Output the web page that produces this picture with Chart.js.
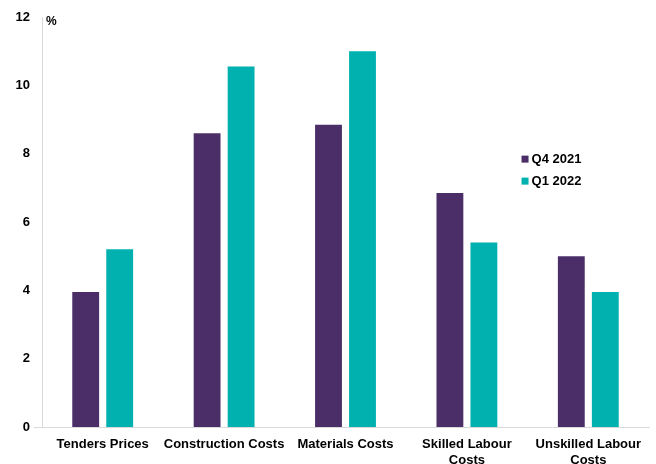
<!DOCTYPE html>
<html>
<head>
<meta charset="utf-8">
<script src="https://cdn.jsdelivr.net/npm/chart.js@4/dist/chart.umd.min.js"></script>
<style>
html,body{margin:0;padding:0;background:#fff;}
#wrap{width:656px;height:464px;}
</style>
</head>
<body>
<div id="wrap"><canvas id="c" width="656" height="464"></canvas></div>
<script>
const categories = [["Tenders Prices"], ["Construction Costs"], ["Materials Costs"], ["Skilled Labour", "Costs"], ["Unskilled Labour", "Costs"]];
const seriesNames = ["Q4 2021", "Q1 2022"];
const q4_2021 = [3.95, 8.6, 8.85, 6.85, 5.0];
const q1_2022 = [5.2, 10.55, 11.0, 5.4, 3.95];
const yTicks = [0, 2, 4, 6, 8, 10, 12];
const unitLabel = "%";

const colors = ["#4B2E68", "#00B1B0"];
const FONT = "'Liberation Sans', Arial, sans-serif";

const extras = {
  id: 'extras',
  afterDraw(chart) {
    const ctx = chart.ctx;
    const x = chart.scales.x, y = chart.scales.y;
    const ca = chart.chartArea;
    ctx.save();
    // x axis line extended slightly left
    ctx.strokeStyle = '#d9d9d9';
    ctx.lineWidth = 1;
    ctx.beginPath();
    const y0 = Math.round(y.getPixelForValue(0)) + 0.5;
    ctx.moveTo(ca.left - 8, y0);
    ctx.lineTo(ca.right + 1, y0);
    ctx.stroke();
    // unit label
    ctx.fillStyle = '#000';
    ctx.font = 'bold 12px ' + FONT;
    ctx.textBaseline = 'middle';
    ctx.textAlign = 'left';
    ctx.fillText(unitLabel, ca.left + 4, y.getPixelForValue(12) + 5);
    // legend
    ctx.font = 'bold 13px ' + FONT;
    const lx = ca.left + (ca.right - ca.left) * 0.79;
    const ly = y.getPixelForValue(7.84);
    chart.data.datasets.forEach((ds, i) => {
      const yy = ly + i * 22;
      ctx.fillStyle = ds.backgroundColor;
      ctx.fillRect(lx, yy - 3.5, 7, 7);
      ctx.fillStyle = '#000';
      ctx.fillText(ds.label, lx + 10, yy);
    });
    ctx.restore();
  }
};

new Chart(document.getElementById('c'), {
  type: 'bar',
  data: {
    labels: categories,
    datasets: [
      { label: seriesNames[0], data: q4_2021, backgroundColor: colors[0] },
      { label: seriesNames[1], data: q1_2022, backgroundColor: colors[1] }
    ]
  },
  options: {
    responsive: false,
    animation: false,
    devicePixelRatio: 1,
    layout: { padding: { top: 17, right: 7, bottom: 0, left: 0 } },
    plugins: { legend: { display: false }, tooltip: { enabled: false } },
    datasets: { bar: { categoryPercentage: 0.56, barPercentage: 0.79 } },
    scales: {
      x: {
        grid: { display: false, drawTicks: false },
        border: { display: false },
        ticks: { color: '#000', font: { family: FONT, size: 13, weight: 'bold' }, padding: 10, maxRotation: 0, autoSkip: false },
        afterFit(s) { s.height = 37; s.paddingLeft = 0; s.paddingRight = 0; }
      },
      y: {
        min: 0, max: 12,
        afterBuildTicks(s) { s.ticks = yTicks.map(v => ({ value: v })); },
        grid: { display: false, drawTicks: false },
        border: { display: true, color: '#d9d9d9' },
        ticks: { color: '#000', font: { family: FONT, size: 13, weight: 'bold' }, padding: 12 },
        afterFit(s) { s.width = 42; s.paddingTop = 0; s.paddingBottom = 0; }
      }
    }
  },
  plugins: [extras]
});
</script>
</body>
</html>
